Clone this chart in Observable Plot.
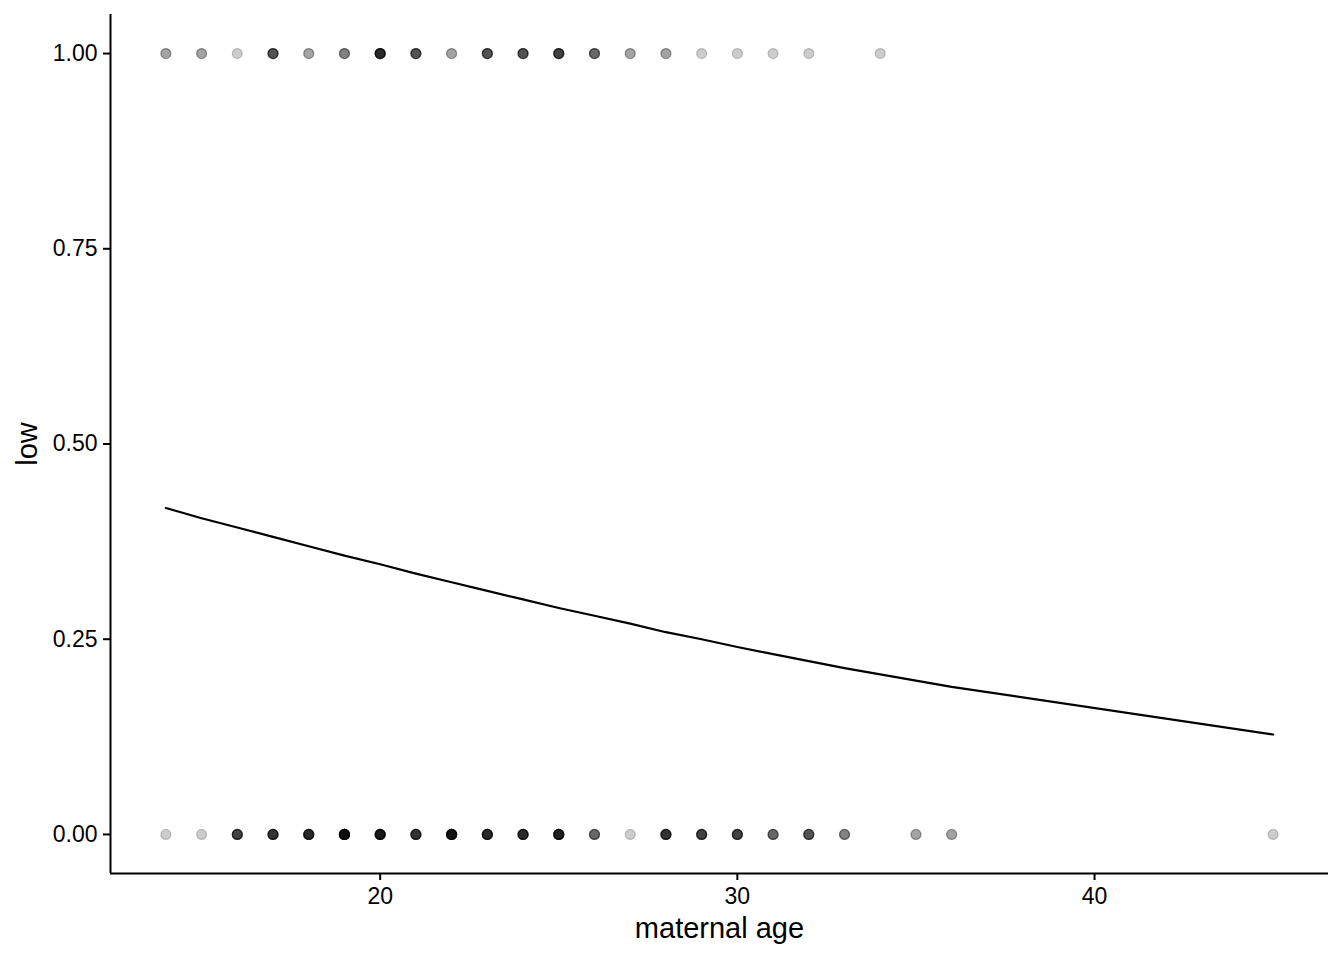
<!DOCTYPE html>
<html>
<head>
<meta charset="utf-8">
<script src="https://cdn.jsdelivr.net/npm/d3@7"></script>
<script src="https://cdn.jsdelivr.net/npm/@observablehq/plot@0.6"></script>
<style>
  html, body { margin: 0; padding: 0; background: white; }
</style>
</head>
<body>
<div id="chart"></div>
<script>
// maternal ages present in the data
const ages = [14,15,16,17,18,19,20,21,22,23,24,25,26,27,28,29,30,31,32,33,34,35,36,45];
// number of births with low = 1 at each age (read from point darkness)
const countLow1 = [2,2,1,5,2,3,8,5,2,5,5,6,4,2,2,1,1,1,1,0,1,0,0,0];
// number of births with low = 0 at each age
const countLow0 = [1,1,6,7,8,13,10,7,11,8,8,9,4,1,7,6,6,4,5,3,0,2,2,1];
// fitted probability of low birth weight at each age
const fitted = [0.418,0.405,0.393,0.381,0.369,0.357,0.346,0.334,0.323,0.312,0.301,0.290,0.280,0.270,0.259,0.250,0.240,0.231,0.222,0.213,0.205,0.197,0.189,0.128];

const yTicks = [0, 0.25, 0.5, 0.75, 1];
const xTicks = [20, 30, 40];
const xLabel = "maternal age";
const yLabel = "low";

const points = [];
ages.forEach((a, i) => {
  for (let k = 0; k < countLow1[i]; k++) points.push({age: a, low: 1});
  for (let k = 0; k < countLow0[i]; k++) points.push({age: a, low: 0});
});
const fit = ages.map((a, i) => ({age: a, p: fitted[i]}));

const xDomain = [12.45, 46.55];
const yDomain = [-0.05, 1.05];

const chart = Plot.plot({
  width: 1344,
  height: 960,
  marginLeft: 110,
  marginRight: 16,
  marginTop: 14,
  marginBottom: 87,
  style: {fontFamily: "'Liberation Sans', Arial, Helvetica, sans-serif", background: "white", color: "black"},
  x: {domain: xDomain},
  y: {domain: yDomain},
  marks: [
    Plot.dot(points, {x: "age", y: "low", r: 5, fill: "black", fillOpacity: 0.2, stroke: "black", strokeOpacity: 0.2, strokeWidth: 1.2}),
    Plot.line(fit, {x: "age", y: "p", stroke: "black", strokeWidth: 2.2}),
    Plot.ruleY([yDomain[0]], {stroke: "black", strokeWidth: 2}),
    Plot.ruleX([xDomain[0]], {stroke: "black", strokeWidth: 2}),
    Plot.axisX({ticks: xTicks, tickSize: 7, tickPadding: 7, fontSize: 23, label: null, strokeWidth: 2, stroke: "black", fill: "black"}),
    Plot.axisY({ticks: yTicks, tickSize: 7, tickPadding: 6, fontSize: 23, label: null, tickFormat: d3.format(".2f"), strokeWidth: 2, stroke: "black", fill: "black"}),
    Plot.text([xLabel], {frameAnchor: "bottom", dy: 64, fontSize: 29, fill: "black"}),
    Plot.text([yLabel], {frameAnchor: "left", textAnchor: "middle", lineAnchor: "middle", dx: -83, rotate: -90, fontSize: 29, fill: "black"})
  ]
});
document.getElementById("chart").appendChild(chart);
</script>
</body>
</html>
